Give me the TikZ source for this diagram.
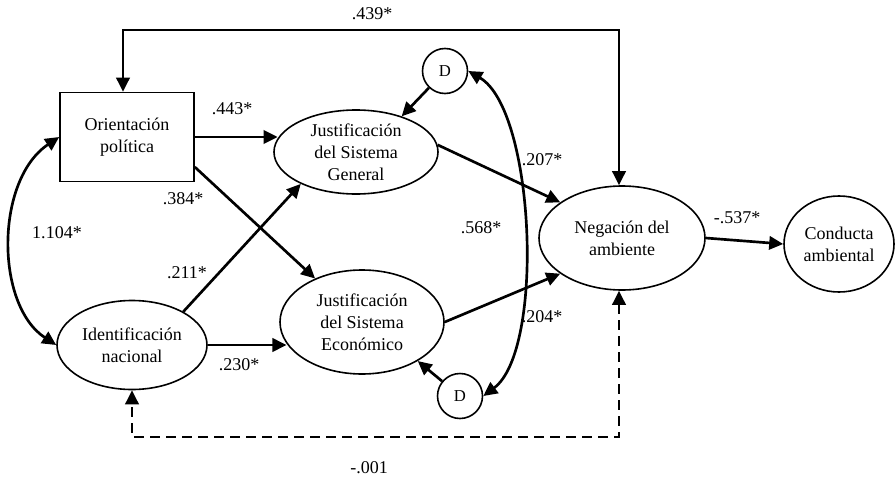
\documentclass[tikz,border=0pt]{standalone}
\usepackage{fontspec}
\setmainfont{Liberation Serif}
\usetikzlibrary{arrows.meta,shapes.geometric,calc}
\begin{document}
\begin{tikzpicture}[x=0.75pt,y=-0.75pt,
  every node/.style={font=\fontsize{13.5}{16.5}\selectfont},
  shp/.style={draw,line width=1.2pt,align=center,inner sep=0pt},
  box/.style={shp,rectangle,minimum width=100.5pt,minimum height=66.75pt},
  ell/.style={shp,ellipse},
  dcirc/.style={shp,circle,minimum size=33.75pt,font=\fontsize{12.5}{14}\selectfont},
  arr/.style={line width=2pt,-{Triangle[length=10.5pt,width=10pt]}},
  barr/.style={line width=2pt,{Triangle[length=10.5pt,width=10pt]}-{Triangle[length=10.5pt,width=10pt]}},
  dsh/.style={dash pattern=on 7.5pt off 4.5pt},
  lbl/.style={inner sep=0pt}]
\useasboundingbox (0,0) rectangle (895,478);

% nodes
\node[box] (op) at (127,137) {Orientación\\política};
\node[ell,minimum width=123pt,minimum height=63pt] (jsg) at (356,152) {Justificación\\del Sistema\\General};
\node[ell,minimum width=123pt,minimum height=78pt] (jse) at (362,322) {Justificación\\del Sistema\\Económico};
\node[ell,minimum width=112.5pt,minimum height=66.75pt] (idn) at (132,345) {Identificación\\nacional};
\node[ell,minimum width=124.5pt,minimum height=78pt] (neg) at (622,238) {Negación del\\ambiente};
\node[ell,minimum width=82.5pt,minimum height=72pt] (con) at (839,244) {Conducta\\ambiental};
\node[dcirc] (d1) at (445,71) {D};
\node[dcirc] (d2) at (460,396) {D};

% helper coordinates
\coordinate (t1) at (123,30);
\coordinate (t2) at (619,30);
\coordinate (b1) at (619,437);
\coordinate (b2) at (132,437);

% connectors
\draw[barr] (t1 |- op.north) -- (t1) -- (t2) -- (t2 |- neg.north);
\draw[arr] (op.east) -- (op.east -| jsg.170);
\draw[arr] ($(op.east)+(0,30)$) -- (jse);
\draw[arr] (idn.33) -- (jsg.210);
\draw[arr] (idn.east) -- (idn.east -| jse.196);
\draw[arr] (jsg.5) -- (neg.150);
\draw[arr] (jse.east) -- (neg.210);
\draw[arr] (neg.east) -- (con.west);
\draw[arr] (d1) -- (jsg.38);
\draw[arr] (d2) -- (jse.-35);
\draw[barr] (d1.east) .. controls (535,110) and (545,350) .. (d2.east);
\draw[barr] (op.west) .. controls (-5,180) and (-5,305) .. (idn.west);
\draw[barr,dsh] (b1 |- neg.south) -- (b1) -- (b2) -- (b2 |- idn.south);

% labels
\node[lbl] (l1) at (372,14) {.439*};
\node[lbl] (l2) at (232,109) {.443*};
\node[lbl] (l3) at (183,199) {.384*};
\node[lbl] (l4) at (57,233) {1.104*};
\node[lbl] (l5) at (187,273) {.211*};
\node[lbl] (l6) at (239,365) {.230*};
\node[lbl] (l7) at (542,160) {.207*};
\node[lbl] (l8) at (481,228) {.568*};
\node[lbl] (l9) at (542,317) {.204*};
\node[lbl] (l10) at (737,218) {-.537*};
\node[lbl] (l11) at (369,468) {-.001};
\end{tikzpicture}
\end{document}
